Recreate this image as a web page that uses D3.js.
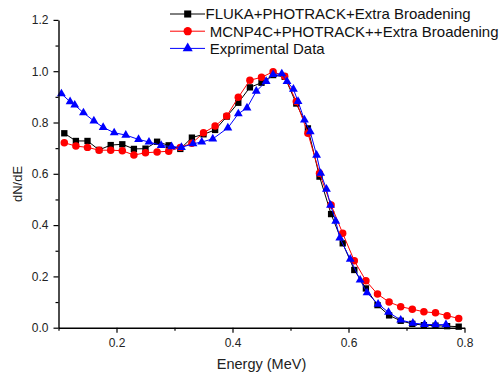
<!DOCTYPE html>
<html>
<head>
<meta charset="utf-8">
<script src="https://cdn.jsdelivr.net/npm/d3@7"></script>
<style>
  body { margin: 0; background: #fff; }
  svg { display: block; font-family: Arial, "Liberation Sans", sans-serif; }
</style>
</head>
<body>
<div class="main"></div>
<script>
// chart data
const simEnergy = [0.11, 0.13, 0.15, 0.17, 0.19, 0.21, 0.23, 0.25, 0.27, 0.29, 0.31, 0.33, 0.35, 0.37, 0.39,
  0.41, 0.43, 0.45, 0.47, 0.49, 0.51, 0.53, 0.55, 0.57, 0.59, 0.61, 0.63, 0.65, 0.67, 0.69, 0.71, 0.73, 0.75, 0.77, 0.79];
const flukaValues = [0.758, 0.728, 0.728, 0.693, 0.712, 0.715, 0.697, 0.698, 0.725, 0.711, 0.697, 0.741, 0.754, 0.771, 0.823,
  0.877, 0.937, 0.955, 0.985, 0.978, 0.874, 0.777, 0.589, 0.443, 0.329, 0.225, 0.153, 0.088, 0.048, 0.027, 0.015, 0.010, 0.008, 0.006, 0.004];
const mcnpValues = [0.721, 0.708, 0.703, 0.692, 0.692, 0.690, 0.673, 0.682, 0.685, 0.688, 0.703, 0.719, 0.760, 0.786, 0.825,
  0.898, 0.965, 0.976, 0.998, 0.980, 0.882, 0.758, 0.602, 0.478, 0.368, 0.261, 0.183, 0.131, 0.100, 0.082, 0.072, 0.062, 0.058, 0.047, 0.036];
const expEnergy = [0.105, 0.120, 0.128, 0.143, 0.161, 0.177, 0.196, 0.216, 0.238, 0.256, 0.277, 0.295, 0.312, 0.332, 0.347,
  0.366, 0.392, 0.410, 0.425, 0.441, 0.458, 0.470, 0.485, 0.494, 0.505, 0.513, 0.524, 0.534, 0.545, 0.552, 0.562, 0.569,
  0.578, 0.585, 0.603, 0.620, 0.632, 0.651, 0.669, 0.690, 0.711, 0.731, 0.750, 0.768];
const expValues = [0.912, 0.881, 0.868, 0.838, 0.806, 0.781, 0.760, 0.751, 0.734, 0.724, 0.711, 0.706, 0.703, 0.717, 0.724,
  0.736, 0.779, 0.834, 0.857, 0.922, 0.960, 0.987, 0.990, 0.960, 0.930, 0.882, 0.810, 0.764, 0.673, 0.602, 0.540, 0.478,
  0.415, 0.350, 0.267, 0.186, 0.136, 0.092, 0.060, 0.030, 0.018, 0.013, 0.012, 0.012];
const seriesNames = ['FLUKA+PHOTRACK+Extra Broadening', ' MCNP4C+PHOTRACK++Extra Broadening', ' Exprimental Data'];
const xMajor = [0.2, 0.4, 0.6, 0.8];
const xMinor = [0.1, 0.3, 0.5, 0.7];
const yMajor = [0.0, 0.2, 0.4, 0.6, 0.8, 1.0, 1.2];
const yMinor = [0.1, 0.3, 0.5, 0.7, 0.9, 1.1];

const width = 501;
const height = 376;

const svg = d3.select('.main').append('svg')
  .attr('width', width)
  .attr('height', height);

const xScale = d3.scaleLinear().domain([0.1, 0.8]).range([58.5, 464.5]);
const yScale = d3.scaleLinear().domain([0, 1.2]).range([327.7, 19.9]);

const series = [
  { name: seriesNames[0], color: '#000000', shape: d3.symbolSquare, size: 40,
    data: simEnergy.map((e, i) => [e, flukaValues[i]]) },
  { name: seriesNames[1], color: '#ff0000', shape: d3.symbolCircle, size: 44,
    data: simEnergy.map((e, i) => [e, mcnpValues[i]]) },
  { name: seriesNames[2], color: '#0000ff', shape: d3.symbolTriangle, size: 34,
    data: expEnergy.map((e, i) => [e, expValues[i]]) }
];

const line = d3.line().x(d => xScale(d[0])).y(d => yScale(d[1]));

series.forEach(s => {
  const g = svg.append('g');
  g.append('path')
    .attr('d', line(s.data))
    .attr('fill', 'none')
    .attr('stroke', s.color)
    .attr('stroke-width', 1);
  g.selectAll('path.pt')
    .data(s.data)
    .enter()
    .append('path')
    .attr('class', 'pt')
    .attr('d', d3.symbol().type(s.shape).size(s.size))
    .attr('transform', d => `translate(${xScale(d[0])},${yScale(d[1])})`)
    .attr('fill', s.color);
});

// axes
const xAxis = svg.append('g')
  .attr('transform', `translate(0, ${yScale(0)})`)
  .call(d3.axisBottom(xScale).tickValues(xMajor).tickFormat(d3.format('.1f')).tickSize(5).tickSizeOuter(0).tickPadding(5.5));
svg.append('g')
  .attr('transform', `translate(0, ${yScale(0)})`)
  .call(d3.axisBottom(xScale).tickValues(xMinor).tickFormat('').tickSize(3).tickSizeOuter(0))
  .select('.domain').remove();

const yAxis = svg.append('g')
  .attr('transform', `translate(${xScale(0.1)}, 0)`)
  .call(d3.axisLeft(yScale).tickValues(yMajor).tickFormat(d3.format('.1f')).tickSize(5).tickSizeOuter(0).tickPadding(5));
svg.append('g')
  .attr('transform', `translate(${xScale(0.1)}, 0)`)
  .call(d3.axisLeft(yScale).tickValues(yMinor).tickFormat('').tickSize(3).tickSizeOuter(0))
  .select('.domain').remove();

svg.selectAll('.domain').attr('stroke', '#000').attr('stroke-width', 1.4);
svg.selectAll('.tick line').attr('stroke', '#000').attr('stroke-width', 1.2);
svg.selectAll('.tick text').attr('font-size', 12).attr('fill', '#222')
  .attr('font-family', 'Arial, "Liberation Sans", sans-serif');

svg.append('text')
  .attr('x', 261.5)
  .attr('y', 369.3)
  .attr('text-anchor', 'middle')
  .attr('font-size', 14.5)
  .attr('fill', '#222')
  .text('Energy (MeV)');

svg.append('text')
  .attr('transform', 'translate(21.7, 184) rotate(-90)')
  .attr('text-anchor', 'middle')
  .attr('font-size', 13)
  .attr('fill', '#222')
  .text('dN/dE');

// legend
const legend = svg.append('g');
series.forEach((s, i) => {
  const y = 14 + i * 17.2;
  legend.append('line')
    .attr('x1', 170).attr('x2', 205)
    .attr('y1', y).attr('y2', y)
    .attr('stroke', s.color).attr('stroke-width', 1);
  legend.append('path')
    .attr('d', d3.symbol().type(s.shape).size(s.size + 10))
    .attr('transform', `translate(187.7, ${y})`)
    .attr('fill', s.color);
  legend.append('text')
    .attr('x', 205.5)
    .attr('y', y + 5.3)
    .attr('font-size', 15)
    .attr('fill', '#111')
    .style('white-space', 'pre')
    .text(s.name);
});
</script>
</body>
</html>
